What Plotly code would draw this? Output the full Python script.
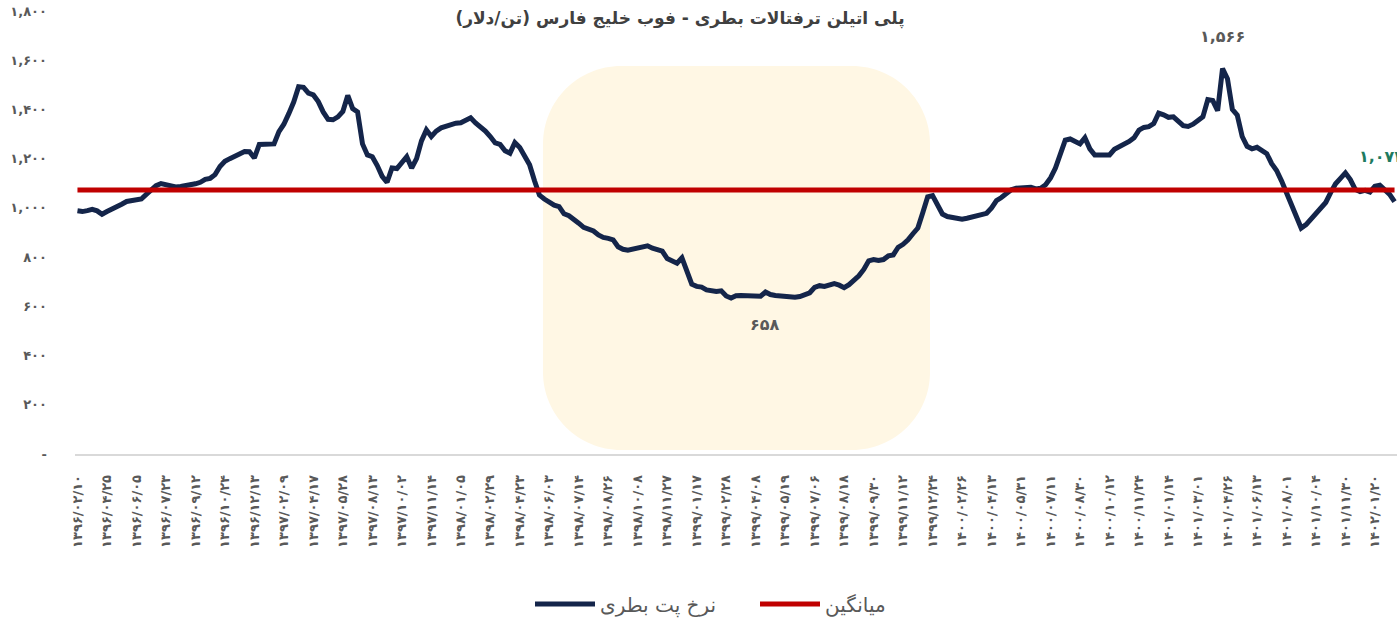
import plotly.graph_objects as go

# ---- data ----
price = [
    988, 985, 989, 994, 988, 974, 985, 994, 1002, 1015,
    1026, 1031, 1031, 1036, 1055, 1076, 1090, 1099, 1095, 1090,
    1085, 1087, 1089, 1094, 1098, 1104, 1116, 1120, 1135, 1168,
    1189, 1200, 1210, 1219, 1229, 1228, 1203, 1258, 1258, 1255,
    1260, 1310, 1340, 1383, 1430, 1492, 1490, 1466, 1459, 1432,
    1390, 1360, 1358, 1370, 1392, 1457, 1403, 1390, 1260, 1215,
    1208, 1172, 1128, 1104, 1162, 1160, 1186, 1208, 1162, 1200,
    1272, 1317, 1290, 1312, 1325, 1332, 1340, 1344, 1346, 1354,
    1366, 1345, 1330, 1312, 1290, 1264, 1258, 1232, 1222, 1265,
    1245, 1210, 1175, 1110, 1052, 1036, 1024, 1011, 1005, 976,
    968, 955, 938, 921, 914, 906, 890, 880, 876, 870,
    842, 832, 828, 832, 837, 845, 846, 836, 828, 824,
    794, 784, 775, 797, 745, 690, 681, 678, 667, 662,
    660, 663, 642, 634, 643, 644, 643, 638, 637, 641,
    658, 648, 644, 641, 639, 637, 637, 640, 646, 655,
    677, 684, 681, 684, 692, 686, 676, 688, 703, 724,
    750, 785, 790, 786, 790, 805, 809, 840, 852, 870,
    895, 918, 980, 1045, 1050, 1008, 975, 965, 960, 955,
    954, 958, 964, 968, 972, 978, 1000, 1030, 1042, 1056,
    1074, 1080, 1082, 1085, 1084, 1077, 1080, 1094, 1122, 1162,
    1220, 1275, 1280, 1268, 1260, 1285, 1240, 1215, 1215, 1215,
    1215, 1238, 1248, 1256, 1270, 1285, 1316, 1327, 1330, 1343,
    1385, 1378, 1368, 1370, 1350, 1334, 1331, 1340, 1355, 1370,
    1440, 1436, 1395, 1566, 1525, 1400, 1377, 1290, 1250, 1240,
    1246, 1232, 1220, 1180, 1152, 1110, 1065, 1015, 975, 918,
    932, 955, 977, 994, 1022, 1062, 1098, 1120, 1142, 1115,
    1075, 1066, 1071, 1064, 1088, 1092, 1075, 1055, 1025,
]
mean_value = 1073
tick_dates = [
    "1396/02/10", "1396/04/25", "1396/06/05", "1396/07/23", "1396/09/12",
    "1396/10/24", "1396/12/13", "1397/02/09", "1397/04/17", "1397/05/28",
    "1397/08/13", "1397/10/02", "1397/11/14", "1398/01/05", "1398/02/29",
    "1398/04/23", "1398/06/03", "1398/07/14", "1398/08/26", "1398/10/08",
    "1398/11/27", "1399/01/17", "1399/02/28", "1399/04/08", "1399/05/19",
    "1399/07/06", "1399/08/18", "1399/09/30", "1399/11/12", "1399/12/24",
    "1400/02/26", "1400/04/13", "1400/05/31", "1400/07/11", "1400/08/30",
    "1400/10/12", "1400/11/24", "1401/01/14", "1401/03/01", "1401/04/26",
    "1401/06/13", "1401/08/01", "1401/10/04", "1401/11/30", "1402/01/20",
]
tick_step = 6
y_ticks = [0, 200, 400, 600, 800, 1000, 1200, 1400, 1600, 1800]

title_text = "پلی اتیلن ترفتالات بطری - فوب خلیج فارس (تن/دلار)"
name_price = "نرخ پت بطری"
name_mean = "میانگین"

FA = str.maketrans("0123456789", "۰۱۲۳۴۵۶۷۸۹")


def fa(s):
    return str(s).translate(FA)


def fa_num(v):
    return "-" if v == 0 else fa(f"{v:,}")


x = list(range(len(price)))
mean_series = [mean_value] * len(price)
max_i = price.index(max(price))
lbl_i = 140

FONT = "DejaVu Sans"
GRAY = "#595959"
W, H = 1397, 619
L, R, T, B = 75, 0, 11, 165
pw, ph = W - L - R, H - T - B


def pp(px, py):
    return (px - L) / pw, (H - B - py) / ph


def rounded_rect(x0, y0, x1, y1, r):
    k = 0.5523 * r

    def P(a, b):
        u, v = pp(a, b)
        return f"{u:.5f},{v:.5f}"
    d = f"M {P(x0 + r, y0)} L {P(x1 - r, y0)} "
    d += f"C {P(x1 - r + k, y0)} {P(x1, y0 + r - k)} {P(x1, y0 + r)} "
    d += f"L {P(x1, y1 - r)} "
    d += f"C {P(x1, y1 - r + k)} {P(x1 - r + k, y1)} {P(x1 - r, y1)} "
    d += f"L {P(x0 + r, y1)} "
    d += f"C {P(x0 + r - k, y1)} {P(x0, y1 - r + k)} {P(x0, y1 - r)} "
    d += f"L {P(x0, y0 + r)} "
    d += f"C {P(x0, y0 + r - k)} {P(x0 + r - k, y0)} {P(x0 + r, y0)} Z"
    return d


fig = go.Figure()
fig.add_trace(go.Scatter(
    x=x, y=price, mode="lines", name=name_price,
    line=dict(color="#14254a", width=5, shape="linear"),
))
fig.add_trace(go.Scatter(
    x=x, y=mean_series, mode="lines", name=name_mean,
    line=dict(color="#c00000", width=5),
))

fig.add_shape(type="path", xref="paper", yref="paper",
              path=rounded_rect(543, 66, 930, 450, 78),
              fillcolor="#fff7e4", line=dict(width=0), layer="below")

fig.add_annotation(x=max_i, y=price[max_i], text=fa(f"{price[max_i]:,}"),
                   showarrow=False, yshift=32,
                   font=dict(family=FONT, size=16, color=GRAY, weight="bold"))
fig.add_annotation(x=lbl_i, y=price[lbl_i], text=fa(f"{price[lbl_i]:,}"),
                   showarrow=False, yshift=-32,
                   font=dict(family=FONT, size=16, color=GRAY, weight="bold"))
fig.add_annotation(x=len(price) - 1, y=mean_value, text=fa(f"{mean_value:,}"),
                   showarrow=False, xanchor="left", xshift=-38, yshift=33,
                   font=dict(family=FONT, size=16, color="#1e7b60", weight="bold"))

fig.update_layout(
    width=W, height=H,
    margin=dict(l=L, r=R, t=T, b=B),
    paper_bgcolor="white", plot_bgcolor="rgba(0,0,0,0)",
    title=dict(text="\u200f" + title_text + "\u200f", x=680 / W, xref="container",
               xanchor="center", y=1 - 18 / H, yref="container", yanchor="middle",
               font=dict(family=FONT, size=17, color="#404040", weight="bold")),
    showlegend=True,
    legend=dict(orientation="h", x=(530 - L) / pw, xanchor="left",
                y=1 - 604 / H, yref="container", yanchor="middle",
                itemwidth=60, entrywidth=150, entrywidthmode="pixels",
                font=dict(family=FONT, size=20, color=GRAY),
                bgcolor="rgba(0,0,0,0)"),
    xaxis=dict(range=[-0.5, len(price) - 0.5], showgrid=False, zeroline=False,
               showline=True, linecolor="#d9d9d9", linewidth=1.5,
               tickmode="array", tickvals=[i * tick_step for i in range(len(tick_dates))],
               ticktext=[fa(d) for d in tick_dates], tickangle=-90,
               ticks="", ticklabelstandoff=14,
               tickfont=dict(family=FONT, size=13, color=GRAY, weight="bold")),
    yaxis=dict(range=[0, 1800], showgrid=False, zeroline=False, showline=False,
               tickmode="array", tickvals=y_ticks, ticktext=[fa_num(v) for v in y_ticks],
               ticks="", ticklabelstandoff=27,
               tickfont=dict(family=FONT, size=13, color=GRAY, weight="bold")),
    hovermode=False,
)

fig.write_html(
    "out.html",
    config={"displayModeBar": False},
    post_script="document.body.style.margin='0';document.body.style.overflow='hidden';",
)
